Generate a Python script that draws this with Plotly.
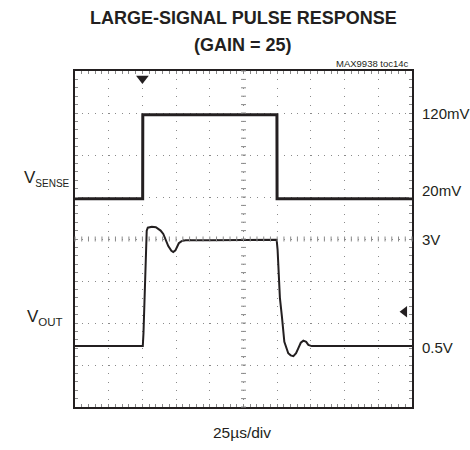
import plotly.graph_objects as go

# ---------------- data ----------------
# time in microseconds (25 us/div, 10 div)
VSENSE_T = [0, 50.2, 50.3, 149.8, 149.9, 250]
VSENSE_MV = [18, 18, 118, 118, 18, 18]

VOUT_T = [0, 50.3, 50.8, 51.3, 51.9, 52.6, 53.2, 54.0, 57.0, 60.0, 61.6, 63.5, 65.5,
          67.5, 69.2, 71.5, 72.9, 74.5, 75.4, 77.0, 79.1, 82.0, 100, 120, 149.6,
          150.3, 151.2, 152.0, 153.5, 155.3, 158.2, 160.0, 162.0, 164.0, 165.7,
          167.5, 169.4, 171.5, 173.1, 175.6, 250]
VOUT_V = [0.45, 0.45, 0.76, 1.3, 2.1, 2.6, 3.2, 3.27, 3.29, 3.28, 3.25, 3.2, 3.12,
          2.98, 2.83, 2.72, 2.69, 2.73, 2.8, 2.9, 2.95, 2.97, 2.97, 2.98, 2.98,
          2.74, 2.2, 1.6, 1.15, 0.55, 0.28, 0.23, 0.21, 0.28, 0.40,
          0.53, 0.58, 0.55, 0.48, 0.45, 0.45]

X_RANGE = [0, 250]          # us
VOUT_RANGE = [-1, 7]        # V, 1 V/div
VSENSE_RANGE = [-230, 170]  # mV, 50 mV/div

TRIGGER_T = 50        # trigger time marker (us)
TRIGGER_V = 6.82      # marker drawn just under the top edge
LEVEL_MARK_T = 244.5  # trigger level marker
LEVEL_MARK_V = 1.27

RIGHT_LABELS_MV = [(120, "120mV", 0), (20, "20mV", 7)]
RIGHT_LABELS_V = [(3, "3V", 0), (0.5, "0.5V", -3)]

FONT = "Liberation Sans, Arial, Helvetica, sans-serif"
INK = "#231f20"
GRID = "#8a8a8a"

W, H = 470, 450
ML, MR, MT, MB = 75, 58, 71, 43
PW, PH = W - ML - MR, H - MT - MB

fig = go.Figure()
fig.add_trace(go.Scatter(x=VSENSE_T, y=VSENSE_MV, yaxis="y2", mode="lines",
                         line=dict(color=INK, width=3), showlegend=False))
fig.add_trace(go.Scatter(x=VOUT_T, y=VOUT_V, mode="lines",
                         line=dict(color=INK, width=2), showlegend=False))
fig.add_trace(go.Scatter(x=[TRIGGER_T], y=[TRIGGER_V], mode="markers", cliponaxis=False,
                         marker=dict(symbol="triangle-down", size=11, color=INK),
                         showlegend=False))
fig.add_trace(go.Scatter(x=[LEVEL_MARK_T], y=[LEVEL_MARK_V], mode="markers", cliponaxis=False,
                         marker=dict(symbol="triangle-left", size=10, color=INK),
                         showlegend=False))

fig.update_layout(
    width=W, height=H,
    margin=dict(l=ML, r=MR, t=MT, b=MB, pad=0),
    paper_bgcolor="white", plot_bgcolor="white",
    xaxis=dict(range=X_RANGE, dtick=25, tick0=0, showticklabels=False,
               showgrid=True, gridcolor=GRID, gridwidth=1, griddash="1px,7.4px",
               showline=True, linecolor=INK, linewidth=2, mirror="allticks",
               ticks="inside", ticklen=3, tickcolor=GRID,
               minor=dict(dtick=5, tick0=0, ticks="inside", ticklen=3, tickcolor=GRID,
                          showgrid=False),
               zeroline=False, fixedrange=True),
    yaxis=dict(range=VOUT_RANGE, dtick=1, tick0=0, showticklabels=False,
               showgrid=True, gridcolor=GRID, gridwidth=1, griddash="1px,5.74px",
               showline=True, linecolor=INK, linewidth=2, mirror="allticks",
               ticks="inside", ticklen=3, tickcolor=GRID,
               minor=dict(dtick=0.2, tick0=0, ticks="inside", ticklen=3, tickcolor=GRID,
                          showgrid=False),
               zeroline=False, fixedrange=True),
    yaxis2=dict(range=VSENSE_RANGE, overlaying="y", visible=False, fixedrange=True),
)

# center-line tick marks (scope graticule)
shapes = []
for i in range(51):
    xp = i / 50
    shapes.append(dict(type="line", xref="paper", yref="paper",
                       x0=xp, x1=xp, y0=0.5 - 2.5 / PH, y1=0.5 + 2.5 / PH,
                       line=dict(color=GRID, width=1)))
for j in range(41):
    yp = j / 40
    shapes.append(dict(type="line", xref="paper", yref="paper",
                       x0=0.5 - 2.5 / PW, x1=0.5 + 2.5 / PW, y0=yp, y1=yp,
                       line=dict(color=GRID, width=1)))
fig.update_layout(shapes=shapes)

ann = []
# title
for txt, yc in [("<b>LARGE-SIGNAL PULSE RESPONSE</b>", 18), ("<b>(GAIN = 25)</b>", 45)]:
    ann.append(dict(text=txt, xref="paper", yref="paper",
                    x=(243 - ML) / PW, y=1 + (MT - yc) / PH, xanchor="center",
                    yanchor="middle", showarrow=False,
                    font=dict(family=FONT, size=18, color=INK)))
ann.append(dict(text="MAX9938 toc14c", xref="paper", yref="paper",
                x=(411 - ML) / PW, y=1 + (MT - 63) / PH, xanchor="right", yanchor="middle",
                showarrow=False, font=dict(family=FONT, size=9.5, color=INK)))
# right labels
for val, txt, ys in RIGHT_LABELS_MV:
    ann.append(dict(text=txt, xref="paper", yref="y2", x=(420 - ML) / PW, y=val,
                    yshift=ys, xanchor="left", yanchor="middle", showarrow=False,
                    font=dict(family=FONT, size=15, color=INK)))
for val, txt, ys in RIGHT_LABELS_V:
    ann.append(dict(text=txt, xref="paper", yref="y", x=(420 - ML) / PW, y=val,
                    yshift=ys, xanchor="left", yanchor="middle", showarrow=False,
                    font=dict(family=FONT, size=15, color=INK)))
# left labels
ann.append(dict(text="V<sub><span style='font-size:10px'>SENSE</span></sub>",
                xref="paper", yref="paper",
                x=(22 - ML) / PW, y=(H - MB - 178) / PH, xanchor="left", yanchor="middle",
                showarrow=False, font=dict(family=FONT, size=17, color=INK)))
ann.append(dict(text="V<sub><span style='font-size:11.5px'>OUT</span></sub>",
                xref="paper", yref="paper",
                x=(25 - ML) / PW, y=(H - MB - 317) / PH, xanchor="left", yanchor="middle",
                showarrow=False, font=dict(family=FONT, size=17, color=INK)))
# x scale label
ann.append(dict(text="25µs/div", xref="paper", yref="paper",
                x=(242 - ML) / PW, y=-(432 - (H - MB)) / PH, xanchor="center",
                yanchor="middle", showarrow=False,
                font=dict(family=FONT, size=15.5, color=INK)))
fig.update_layout(annotations=ann)

fig.write_html("out.html", config={"displayModeBar": False},
               post_script="document.body.style.margin='0px';")
